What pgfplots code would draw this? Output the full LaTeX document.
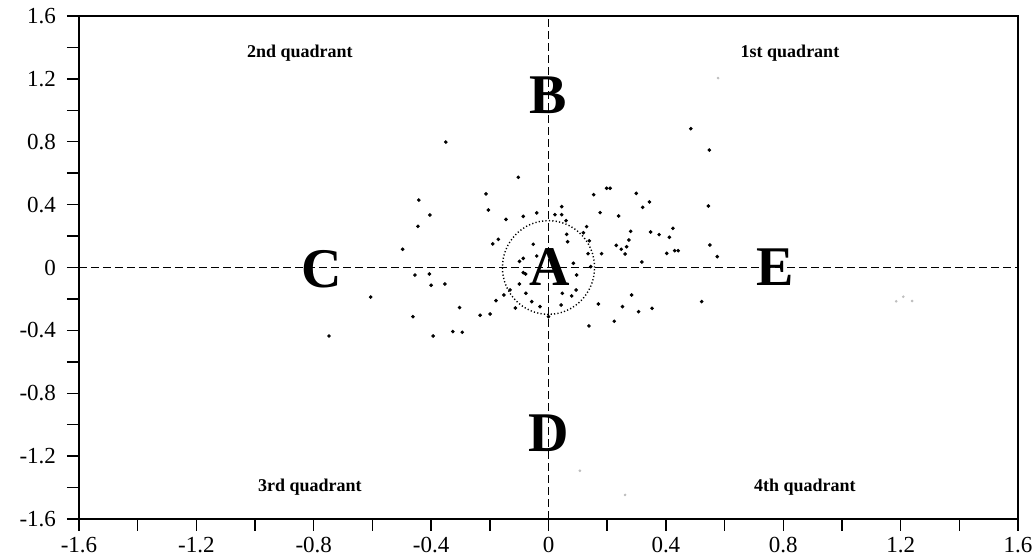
\documentclass[border=0pt]{standalone}
\usepackage{fontspec}
\setmainfont{Liberation Serif}
\usepackage{pgfplots}
\pgfplotsset{compat=1.18}
\begin{document}
\begin{tikzpicture}
\begin{axis}[
  scale only axis,
  width=469.5pt, height=251.5pt,
  xmin=-1.6, xmax=1.6, ymin=-1.6, ymax=1.6,
  xtick={-1.6,-1.2,-0.8,-0.4,0,0.4,0.8,1.2,1.6},
  ytick={-1.6,-1.2,-0.8,-0.4,0,0.4,0.8,1.2,1.6},
  minor tick num=1,
  tick pos=left,
  tick align=outside,
  major tick length=6pt,
  minor tick length=6pt,
  tick style={line width=0.7pt, black},
  axis line style={line width=0.8pt},
  /pgf/number format/assume math mode=true,
  /pgf/number format/fixed,
  /pgf/number format/precision=1,
  ticklabel style={font=\fontsize{11.5}{12}\selectfont},
  yticklabel style={xshift=-2pt},
  xticklabel style={inner sep=0.5pt, yshift=-2.5pt, text depth=0pt},
  clip=false,
]
% dashed quadrant lines
\addplot[black, line width=0.8pt, dash pattern=on 4pt off 2pt] coordinates {(-1.6,0) (1.6,0)};
\addplot[black, line width=0.8pt, dash pattern=on 4pt off 2pt] coordinates {(0,-1.6) (0,1.6)};
% dotted circle
\draw[black, line width=0.7pt, dash pattern=on 0.6pt off 1.1pt] (axis cs:0,0) ellipse [x radius=0.157, y radius=0.298];
% scatter points
\addplot[only marks, mark=*, mark size=0.7pt, black] coordinates {
(0.548,0.747) (-0.103,0.574) (-0.442,0.429) (-0.404,0.334) (-0.445,0.262)
(-0.497,0.116) (-0.213,0.468) (-0.205,0.366) (-0.145,0.306) (-0.086,0.325)
(-0.040,0.347) (0.022,0.336) (0.045,0.387) (0.045,0.336) (0.060,0.298)
(0.198,0.504) (0.210,0.504) (0.154,0.463) (0.176,0.349) (0.239,0.328)
(0.299,0.472) (0.344,0.417) (0.321,0.383) (0.545,0.391) (0.130,0.260)
(0.119,0.221) (0.062,0.211) (0.065,0.164) (0.139,0.170) (0.280,0.230)
(0.274,0.175) (0.266,0.132) (0.248,0.116) (0.231,0.141) (0.261,0.086)
(0.348,0.226) (0.377,0.209) (0.424,0.249) (0.412,0.192) (0.430,0.107)
(0.442,0.107) (0.403,0.090) (0.550,0.143) (0.575,0.069) (0.318,0.035)
(0.181,0.088) (0.135,0.088) (-0.052,0.148) (-0.040,0.073) (-0.086,0.058)
(-0.099,0.039) (-0.190,0.150) (-0.171,0.179) (-0.455,-0.048) (-0.406,-0.041)
(-0.400,-0.113) (-0.353,-0.105) (-0.086,-0.033) (-0.078,-0.041) (-0.099,-0.105)
(-0.077,-0.164) (-0.057,-0.217) (-0.029,-0.249) (0.000,-0.313) (0.043,-0.239)
(0.047,-0.164) (0.079,-0.181) (0.094,-0.143) (0.096,-0.048) (0.085,0.027)
(0.144,0.005) (0.170,-0.232) (0.138,-0.372) (0.224,-0.342) (0.252,-0.249)
(0.283,-0.175) (0.307,-0.281) (0.353,-0.260) (0.522,-0.217) (-0.152,-0.175)
(-0.179,-0.211) (-0.199,-0.296) (-0.233,-0.304) (-0.303,-0.255) (-0.462,-0.313)
(-0.393,-0.436) (-0.326,-0.408) (-0.294,-0.412) (-0.113,-0.258) (-0.131,-0.143)
(-0.606,-0.188) (-0.748,-0.436) (-0.350,0.798) (0.485,0.883)
};
% faint points
\addplot[only marks, mark=*, mark size=0.45pt, gray!50] coordinates {
(1.209,-0.186) (1.239,-0.213) (1.185,-0.215) (0.578,1.205) (0.107,-1.293) (0.261,-1.447)
};
% quadrant labels
\node[font=\fontsize{9}{10}\selectfont\bfseries] at (axis cs:-0.847,1.364) {2nd quadrant};
\node[font=\fontsize{9}{10}\selectfont\bfseries] at (axis cs:0.823,1.364) {1st quadrant};
\node[font=\fontsize{9}{10}\selectfont\bfseries] at (axis cs:-0.813,-1.396) {3rd quadrant};
\node[font=\fontsize{9}{10}\selectfont\bfseries] at (axis cs:0.874,-1.396) {4th quadrant};
% region letters
\node[font=\fontsize{28}{29}\selectfont\bfseries] at (axis cs:0.005,0) {A};
\node[font=\fontsize{28}{29}\selectfont\bfseries] at (axis cs:0,1.097) {B};
\node[font=\fontsize{28}{29}\selectfont\bfseries] at (axis cs:-0.774,-0.013) {C};
\node[font=\fontsize{28}{29}\selectfont\bfseries] at (axis cs:0,-1.053) {D};
\node[font=\fontsize{28}{29}\selectfont\bfseries] at (axis cs:0.772,0) {E};
\end{axis}
\path (current axis.south west) ++(-39.5pt,-18pt) coordinate (bbsw);
\path (current axis.north east) ++(8pt,8pt) coordinate (bbne);
\pgfresetboundingbox
\path[use as bounding box] (bbsw) rectangle (bbne);
\end{tikzpicture}
\end{document}
